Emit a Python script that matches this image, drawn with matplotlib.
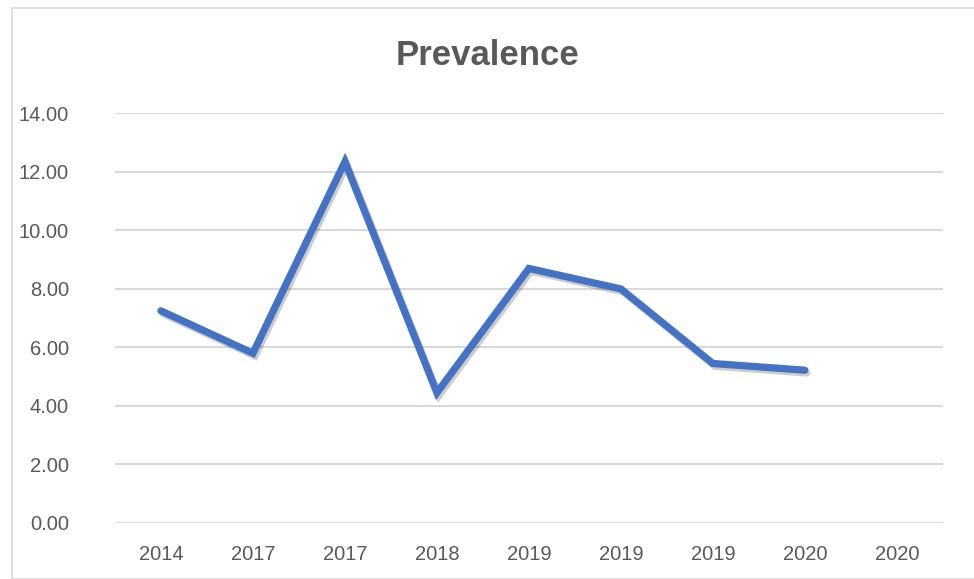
import numpy as np
import matplotlib.pyplot as plt
import matplotlib.patheffects as pe
from matplotlib.patches import Rectangle

years = ["2014", "2017", "2017", "2018", "2019", "2019", "2019", "2020", "2020"]
prevalence = [7.25, 5.8, 12.35, 4.45, 8.7, 8.0, 5.45, 5.22, np.nan]
yticks = [0, 2, 4, 6, 8, 10, 12, 14]

plt.rcParams['font.family'] = ['Liberation Sans', 'DejaVu Sans']
grey = "#595959"

fig = plt.figure(figsize=(9.74, 5.79), dpi=100)
fig.patches.append(Rectangle((12/974, 0), 1.0, 1 - 8/579, transform=fig.transFigure,
                             fill=False, edgecolor="#d9d9d9", lw=1.2))

ax = fig.add_axes([0.118, 0.097, 0.850, 0.707])
x = np.arange(len(years))
ax.plot(x, prevalence, color="#4472C4", lw=5.2, solid_capstyle="round", solid_joinstyle="miter",
        path_effects=[pe.SimpleLineShadow(offset=(1.5, -2), alpha=0.2, shadow_color="black"), pe.Normal()],
        zorder=3)

ax.set_xlim(-0.5, len(years) - 0.5)
ax.set_ylim(0, 14)
ax.set_xticks(x)
ax.set_xticklabels(years)
ax.set_yticks(yticks)
ax.set_yticklabels(["%.2f" % v for v in yticks])
ax.tick_params(axis="both", length=0, labelsize=14.5, colors=grey)
ax.tick_params(axis="y", pad=33)
ax.tick_params(axis="x", pad=16)
ax.grid(axis="y", color="#d9d9d9", lw=1.5)
ax.set_axisbelow(True)
for s in ax.spines.values():
    s.set_visible(False)

fig.text(0.5, 0.905, "Prevalence", ha="center", va="center", fontsize=25,
         fontweight="bold", color=grey)

fig.savefig("out.png", dpi=100)
